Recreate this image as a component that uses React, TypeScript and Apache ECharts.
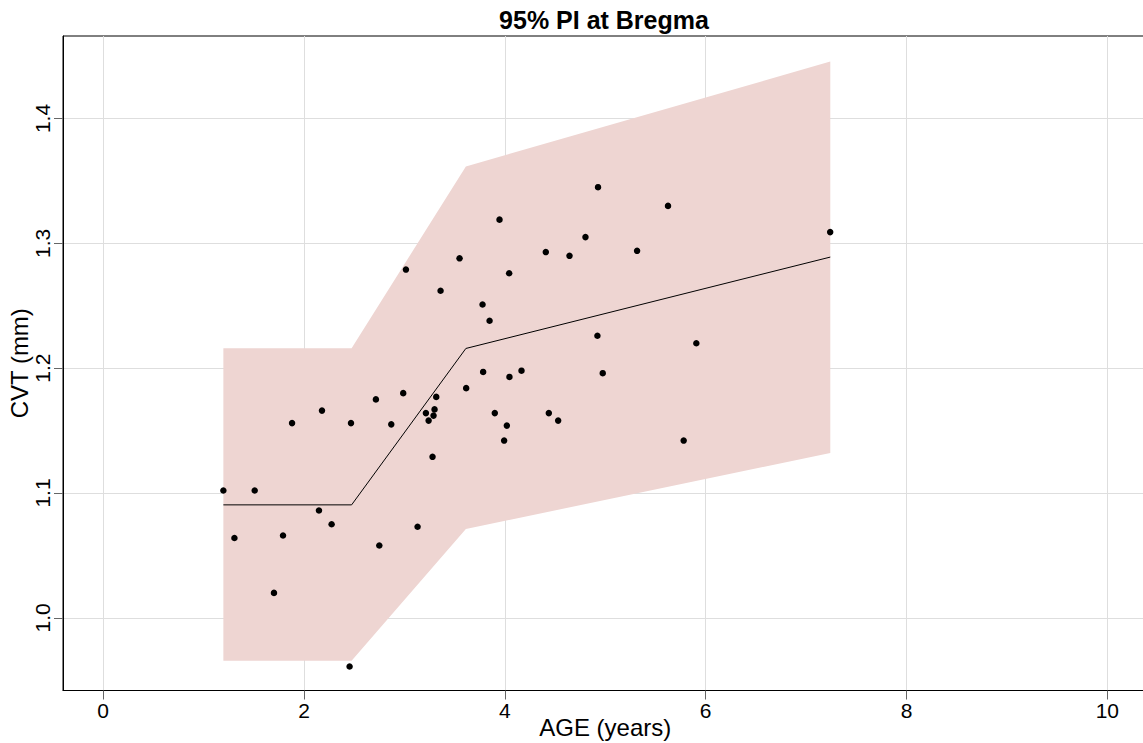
import React, { useEffect, useRef } from "react";
import * as echarts from "echarts";

// Axis tick positions
const ageTicks = [0, 2, 4, 6, 8, 10];
const cvtTicks = [1.0, 1.1, 1.2, 1.3, 1.4];

// 95% prediction interval band
const bandAge = [1.197, 2.474, 3.612, 7.241];
const bandLower = [0.9657, 0.9657, 1.0712, 1.132];
const bandUpper = [1.216, 1.216, 1.3616, 1.4456];

// Fitted piecewise-linear trend
const fitAge = [1.197, 2.474, 3.612, 7.241];
const fitCvt = [1.0905, 1.0905, 1.2158, 1.289];

// Observed measurements
const obsAge = [
  1.197, 1.509, 1.307, 1.791, 1.701, 2.149, 2.275, 2.75, 2.454, 1.881,
  2.179, 2.468, 2.716, 2.988, 2.869, 3.317, 3.3, 3.214, 3.29, 3.241,
  3.28, 3.131, 3.615, 3.784, 3.9, 3.015, 4.928, 5.625, 3.947, 4.803,
  4.408, 4.644, 5.317, 3.549, 4.043, 3.36, 3.778, 3.848, 4.922, 5.907,
  4.166, 4.046, 4.975, 4.438, 4.531, 4.02, 3.993, 5.781, 7.24,
];
const obsCvt = [
  1.102, 1.102, 1.064, 1.066, 1.02, 1.086, 1.075, 1.058, 0.961, 1.156,
  1.166, 1.156, 1.175, 1.18, 1.155, 1.177, 1.167, 1.164, 1.162, 1.158,
  1.129, 1.073, 1.184, 1.197, 1.164, 1.279, 1.345, 1.33, 1.319, 1.305,
  1.293, 1.29, 1.294, 1.288, 1.276, 1.262, 1.251, 1.238, 1.226, 1.22,
  1.198, 1.193, 1.196, 1.164, 1.158, 1.154, 1.142, 1.142, 1.309,
];

const FONT = '"Liberation Sans", Arial, Helvetica, sans-serif';

export default function App() {
  const ref = useRef<HTMLDivElement>(null);

  useEffect(() => {
    if (!ref.current) return;
    const chart = echarts.init(ref.current, undefined, { renderer: "svg" });

    // Band outline: upper edge left to right, then lower edge right to left
    const bandOutline = [
      ...bandAge.map((a, i) => [a, bandUpper[i]]),
      ...bandAge.map((a, i) => [a, bandLower[i]]).reverse(),
    ];
    const fit = fitAge.map((a, i) => [a, fitCvt[i]]);
    const obs = obsAge.map((a, i) => [a, obsCvt[i]]);

    chart.setOption({
      animation: false,
      backgroundColor: "#ffffff",
      textStyle: { fontFamily: FONT },
      graphic: [
        {
          type: "text",
          x: 604,
          y: 7,
          style: {
            text: "95% PI at Bregma",
            fontFamily: FONT,
            fontSize: 25,
            fontWeight: "bold",
            fill: "#000",
            align: "center",
            verticalAlign: "top",
          },
        },
      ],
      grid: {
        left: 63,
        right: -4.5,
        top: 36,
        bottom: 52.5,
        show: true,
        borderColor: "#000",
        borderWidth: 1,
        backgroundColor: "transparent",
        containLabel: false,
        outerBoundsMode: "none",
      },
      xAxis: {
        type: "value",
        min: -0.4,
        max: 10.4,
        name: "AGE (years)",
        nameLocation: "middle",
        nameGap: 25,
        nameMoveOverlap: false,
        nameTextStyle: { fontSize: 24, color: "#000", fontFamily: FONT },
        axisLine: { show: true, onZero: false, lineStyle: { color: "#000", width: 1 } },
        axisTick: {
          show: true,
          length: 9,
          customValues: ageTicks,
          lineStyle: { color: "#666", width: 1 },
        },
        axisLabel: {
          customValues: ageTicks,
          fontSize: 21,
          color: "#000",
          margin: 9,
          fontFamily: FONT,
          formatter: (v: number) => String(v),
        },
        splitLine: { show: true, lineStyle: { color: "#dedede", width: 1 } },
      },
      yAxis: {
        type: "value",
        min: 0.9418,
        max: 1.4661,
        name: "CVT (mm)",
        nameLocation: "middle",
        nameRotate: 90,
        nameGap: 32,
        nameMoveOverlap: false,
        nameTextStyle: { fontSize: 24, color: "#000", fontFamily: FONT },
        axisLine: { show: true, onZero: false, lineStyle: { color: "#000", width: 1 } },
        axisTick: {
          show: true,
          length: 9,
          customValues: cvtTicks,
          lineStyle: { color: "#666", width: 1 },
        },
        axisLabel: {
          customValues: cvtTicks,
          fontSize: 21,
          color: "#000",
          margin: 10,
          rotate: 90,
          fontFamily: FONT,
          formatter: (v: number) => v.toFixed(1),
        },
        splitLine: { show: true, lineStyle: { color: "#dedede", width: 1 } },
      },
      series: [
        {
          type: "custom",
          silent: true,
          z: 1,
          data: [0],
          renderItem: (_params: any, api: any) => ({
            type: "polygon",
            shape: { points: bandOutline.map((p) => api.coord(p)) },
            style: { fill: "#EED5D2", stroke: "none" },
          }),
        },
        {
          type: "line",
          data: fit,
          symbol: "none",
          lineStyle: { color: "#000", width: 1 },
          z: 2,
        },
        {
          type: "scatter",
          data: obs,
          symbol: "circle",
          symbolSize: 6.5,
          itemStyle: { color: "#000", opacity: 1 },
          z: 3,
        },
      ],
    });

    return () => chart.dispose();
  }, []);

  return (
    <div
      ref={ref}
      style={{ position: "fixed", left: 0, top: 0, width: 1143, height: 743 }}
    />
  );
}
